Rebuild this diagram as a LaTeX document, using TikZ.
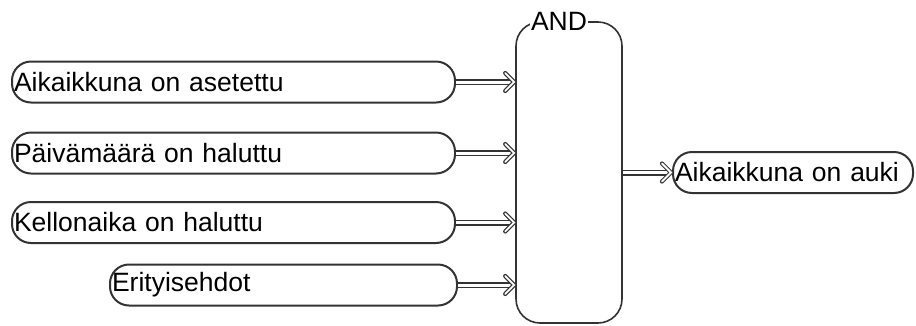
\documentclass[tikz,border=0pt]{standalone}
\usepackage{fontspec}
\setmainfont{Liberation Sans}
\usetikzlibrary{arrows.meta}
\definecolor{edge}{HTML}{333333}
\begin{document}
\begin{tikzpicture}[x=1pt,y=-1pt,
  inbox/.style={draw=edge, line width=2pt, rounded corners=19pt, minimum height=41pt,
    inner xsep=2pt, inner ysep=0pt, align=left, font=\fontsize{26.5}{30}\selectfont},
  gate/.style={draw=edge, line width=1.6pt, rounded corners=24pt, minimum width=106pt, minimum height=301pt, inner sep=0pt},
  shaft/.style={draw=edge, double=white, double distance=3pt, line width=1.5pt},
  chev/.style={draw=edge, double=white, double distance=1.8pt, line width=1.2pt, line join=miter, line cap=round}
]
\useasboundingbox (0,0) rectangle (916,325);
\node[inbox, text width=439pt] (b1) at (233.5,82) {Aikaikkuna on asetettu};
\node[inbox, text width=439pt] (b2) at (233.5,153) {Päivämäärä on haluttu};
\node[inbox, text width=439pt] (b3) at (233.5,222.5) {Kellonaika on haluttu};
\node[inbox, text width=343pt] (b4) at (283.5,285) {Erityisehdot};
\node[gate] (and) at (569,172.5) {};
\node[fill=white, inner xsep=1pt, inner ysep=0pt, font=\fontsize{26.5}{30}\selectfont] (andlbl) at ([xshift=-10pt]and.north) {AND};
\node[inbox, text width=236pt] (out) at (793,172.5) {Aikaikkuna on auki};
\foreach \b in {b1,b2,b3,b4}{
  \coordinate (t\b) at ([xshift=-1pt]and.west |- \b.east);
  \draw[shaft] (\b.east) -- ([xshift=-3pt]t\b);
  \draw[chev] ([shift={(-9pt,-9pt)}]t\b) -- (t\b) -- ([shift={(-9pt,9pt)}]t\b);
}
\coordinate (tout) at ([xshift=-1pt]out.west);
\draw[shaft] (and.east |- out.west) -- ([xshift=-3pt]tout);
\draw[chev] ([shift={(-9pt,-9pt)}]tout) -- (tout) -- ([shift={(-9pt,9pt)}]tout);
\end{tikzpicture}
\end{document}
